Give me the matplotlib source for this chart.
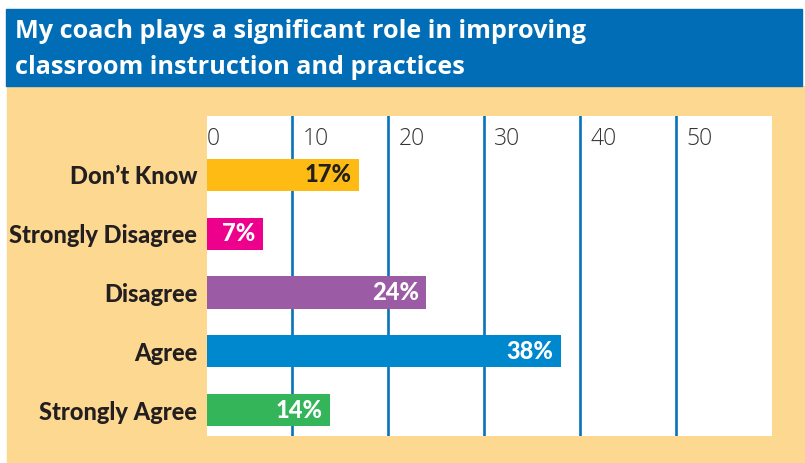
import matplotlib
matplotlib.use("Agg")
import matplotlib.pyplot as plt
from matplotlib.patches import Rectangle

# ---- data ----
categories = ["Don\u2019t Know", "Strongly Disagree", "Disagree", "Agree", "Strongly Agree"]
values = [17, 7, 24, 38, 14]
value_labels = ["17%", "7%", "24%", "38%", "14%"]
tick_values = [0, 10, 20, 30, 40, 50]
tick_labels = ["0", "10", "20", "30", "40", "50"]
title_lines = ["My coach plays a significant role in improving",
               "classroom instruction and practices"]

# ---- style ----
bar_colors = ["#FDBB13", "#EC008C", "#9B5BA5", "#0088CF", "#34B55A"]
label_colors = ["#231F20", "white", "white", "white", "white"]
BLUE = "#006DB6"
PEACH = "#FDD891"
GRID = "#0A72BA"
DARK = "#231F20"

W, H = 805, 463
fig = plt.figure(figsize=(W / 100, H / 100), dpi=100)
fig.patch.set_facecolor("white")

def px(x0, y0, x1, y1):
    """figure-fraction rectangle from pixel coords (top-left origin)"""
    return (x0 / W, 1 - y1 / H, (x1 - x0) / W, (y1 - y0) / H)

# background panels
x, y, w, h = px(7, 86, 805, 463)
fig.patches.append(Rectangle((x, y), w, h, transform=fig.transFigure, color=PEACH, zorder=-2))
x, y, w, h = px(6, 9, 802, 86)
fig.patches.append(Rectangle((x, y), w, h, transform=fig.transFigure, color=BLUE, zorder=-2))

# title
fig.text(15 / W, 1 - 38 / H, title_lines[0], color="white", fontsize=18.2,
         fontfamily="Open Sans", fontweight="bold", va="baseline", ha="left")
fig.text(15 / W, 1 - 74 / H, title_lines[1], color="white", fontsize=18.2,
         fontfamily="Open Sans", fontweight="bold", va="baseline", ha="left")

# axes
ax = fig.add_axes(px(207, 116, 772, 436))
ax.set_zorder(2)
ax.set_facecolor("white")
n = len(categories)
ypos = list(range(n - 1, -1, -1))
ax.barh(ypos, values, height=0.545, color=bar_colors, zorder=3)

ax.set_xlim(11 / 9.6, 60)
ax.set_ylim(-0.44, n)

for t in tick_values[1:]:
    ax.axvline(t, color=GRID, lw=1.9, zorder=2)

for t, lab in zip(tick_values, tick_labels):
    ax.annotate(lab, xy=(t, 0.928), xycoords=("data", "axes fraction"),
                xytext=(7.5, 0), textcoords="offset points", ha="left", va="center",
                fontsize=16.5, fontfamily="Open Sans", fontweight="light", color="#333333",
                annotation_clip=False)

for yy, v, lab, c in zip(ypos, values, value_labels, label_colors):
    ax.annotate(lab, xy=(v, yy), xytext=(-5.5, 0), textcoords="offset points",
                ha="right", va="center", fontsize=17, fontfamily="Lato",
                fontweight="black", color=c, zorder=4)

ax.set_yticks(ypos)
ax.set_yticklabels(categories, fontsize=17, fontfamily="Lato", fontweight="black", color=DARK)
ax.tick_params(axis="y", length=0, pad=7)
ax.set_xticks([])
for s in ax.spines.values():
    s.set_visible(False)

fig.savefig("out.png", dpi=100)
